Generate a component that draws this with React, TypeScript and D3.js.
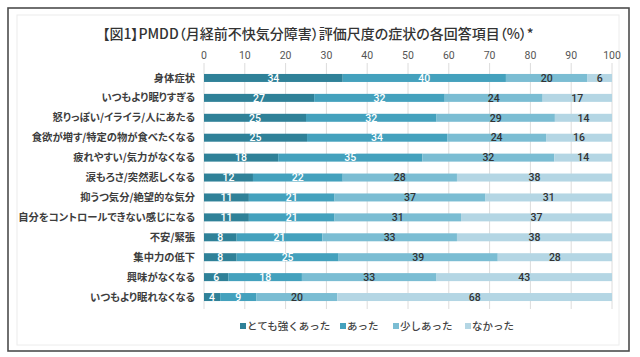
import React from "react";
import * as d3 from "d3";

const title = "【図1】PMDD（月経前不快気分障害）評価尺度の症状の各回答項目（%）*";
const categories = [
  "身体症状",
  "いつもより眠りすぎる",
  "怒りっぽい/イライラ/人にあたる",
  "食欲が増す/特定の物が食べたくなる",
  "疲れやすい/気力がなくなる",
  "涙もろさ/突然悲しくなる",
  "抑うつ気分/絶望的な気分",
  "自分をコントロールできない感じになる",
  "不安/緊張",
  "集中力の低下",
  "興味がなくなる",
  "いつもより眠れなくなる",
];
const seriesNames = ["とても強くあった", "あった", "少しあった", "なかった"];
const veryStrong = [34, 27, 25, 25, 18, 12, 11, 11, 8, 8, 6, 4];
const had = [40, 32, 32, 34, 35, 22, 21, 21, 21, 25, 18, 9];
const little = [20, 24, 29, 24, 32, 28, 37, 31, 33, 39, 33, 20];
const none = [6, 17, 14, 16, 14, 38, 31, 37, 38, 28, 43, 68];
const tickValues = [0, 10, 20, 30, 40, 50, 60, 70, 80, 90, 100];

const colors = ["#2f8198", "#44a1bd", "#7bbdd3", "#b4d6e4"];
const labelColors = ["#ffffff", "#ffffff", "#333333", "#333333"];

const W = 640;
const H = 357;
const FONT = "'Noto Sans CJK JP', 'Noto Sans', sans-serif";

export default function App() {
  const rows = categories.map((c, i) => ({
    cat: c,
    [seriesNames[0]]: veryStrong[i],
    [seriesNames[1]]: had[i],
    [seriesNames[2]]: little[i],
    [seriesNames[3]]: none[i],
  }));
  const stack = d3.stack<any>().keys(seriesNames).offset(d3.stackOffsetExpand);
  const layers = stack(rows);

  const x = d3.scaleLinear().domain([0, 1]).range([204, 612]);
  const xt = d3.scaleLinear().domain([0, 100]).range([204, 612]);
  const y = d3.scaleBand<string>().domain(categories).range([68, 307]);
  const barH = 8;

  const legendX = [240, 340, 393, 465];

  return (
    <svg
      width={W}
      height={H}
      style={{ position: "absolute", left: 0, top: 0, background: "#fff" }}
      fontFamily={FONT}
    >
      <rect x={8} y={8} width={621} height={343} fill="#fff" stroke="#4d4d4d" strokeWidth={1.6} />
      <rect x={17} y={15} width={602} height={330} fill="none" stroke="#ececec" strokeWidth={1} />
      <text
        x={318}
        y={39}
        textAnchor="middle"
        fontSize={14}
        fontWeight={500}
        fill="#333"
        style={{ fontFeatureSettings: "'palt'" }}
      >
        {title}
      </text>
      {tickValues.map((t) => (
        <g key={t}>
          <line x1={xt(t)} x2={xt(t)} y1={63} y2={309} stroke="#dcdcdc" strokeWidth={1} />
          <text x={xt(t)} y={59} textAnchor="middle" fontSize={10.5} fill="#555" fontFamily="Roboto, sans-serif">
            {t}
          </text>
        </g>
      ))}
      {categories.map((c) => (
        <text
          key={c}
          x={195}
          y={(y(c) as number) + y.bandwidth() / 2}
          dy="0.35em"
          textAnchor="end"
          fontSize={10.3}
          fontWeight={700}
          fill="#3d3d3d"
          style={{ fontFeatureSettings: "'palt'" }}
        >
          {c}
        </text>
      ))}
      {layers.map((layer, li) => (
        <g key={layer.key}>
          {layer.map((d: any, i: number) => {
            const cy = (y(categories[i]) as number) + y.bandwidth() / 2;
            const x0 = x(d[0]);
            const x1 = x(d[1]);
            const v = (d.data as any)[layer.key];
            return (
              <g key={i}>
                <rect x={x0} y={cy - barH / 2} width={x1 - x0} height={barH} fill={colors[li]} />
                <text
                  x={(x0 + x1) / 2}
                  y={cy}
                  dy="0.36em"
                  textAnchor="middle"
                  fontSize={10.5}
                  fill={labelColors[li]}
                  fontFamily="Roboto, sans-serif"
                  fontWeight={500}
                >
                  {v}
                </text>
              </g>
            );
          })}
        </g>
      ))}
      {seriesNames.map((s, i) => (
        <g key={s}>
          <rect x={legendX[i]} y={323} width={6} height={6} fill={colors[i]} />
          <text x={legendX[i] + 7} y={326} dy="0.36em" fontSize={10.5} fill="#444" fontWeight={500}>
            {s}
          </text>
        </g>
      ))}
    </svg>
  );
}
